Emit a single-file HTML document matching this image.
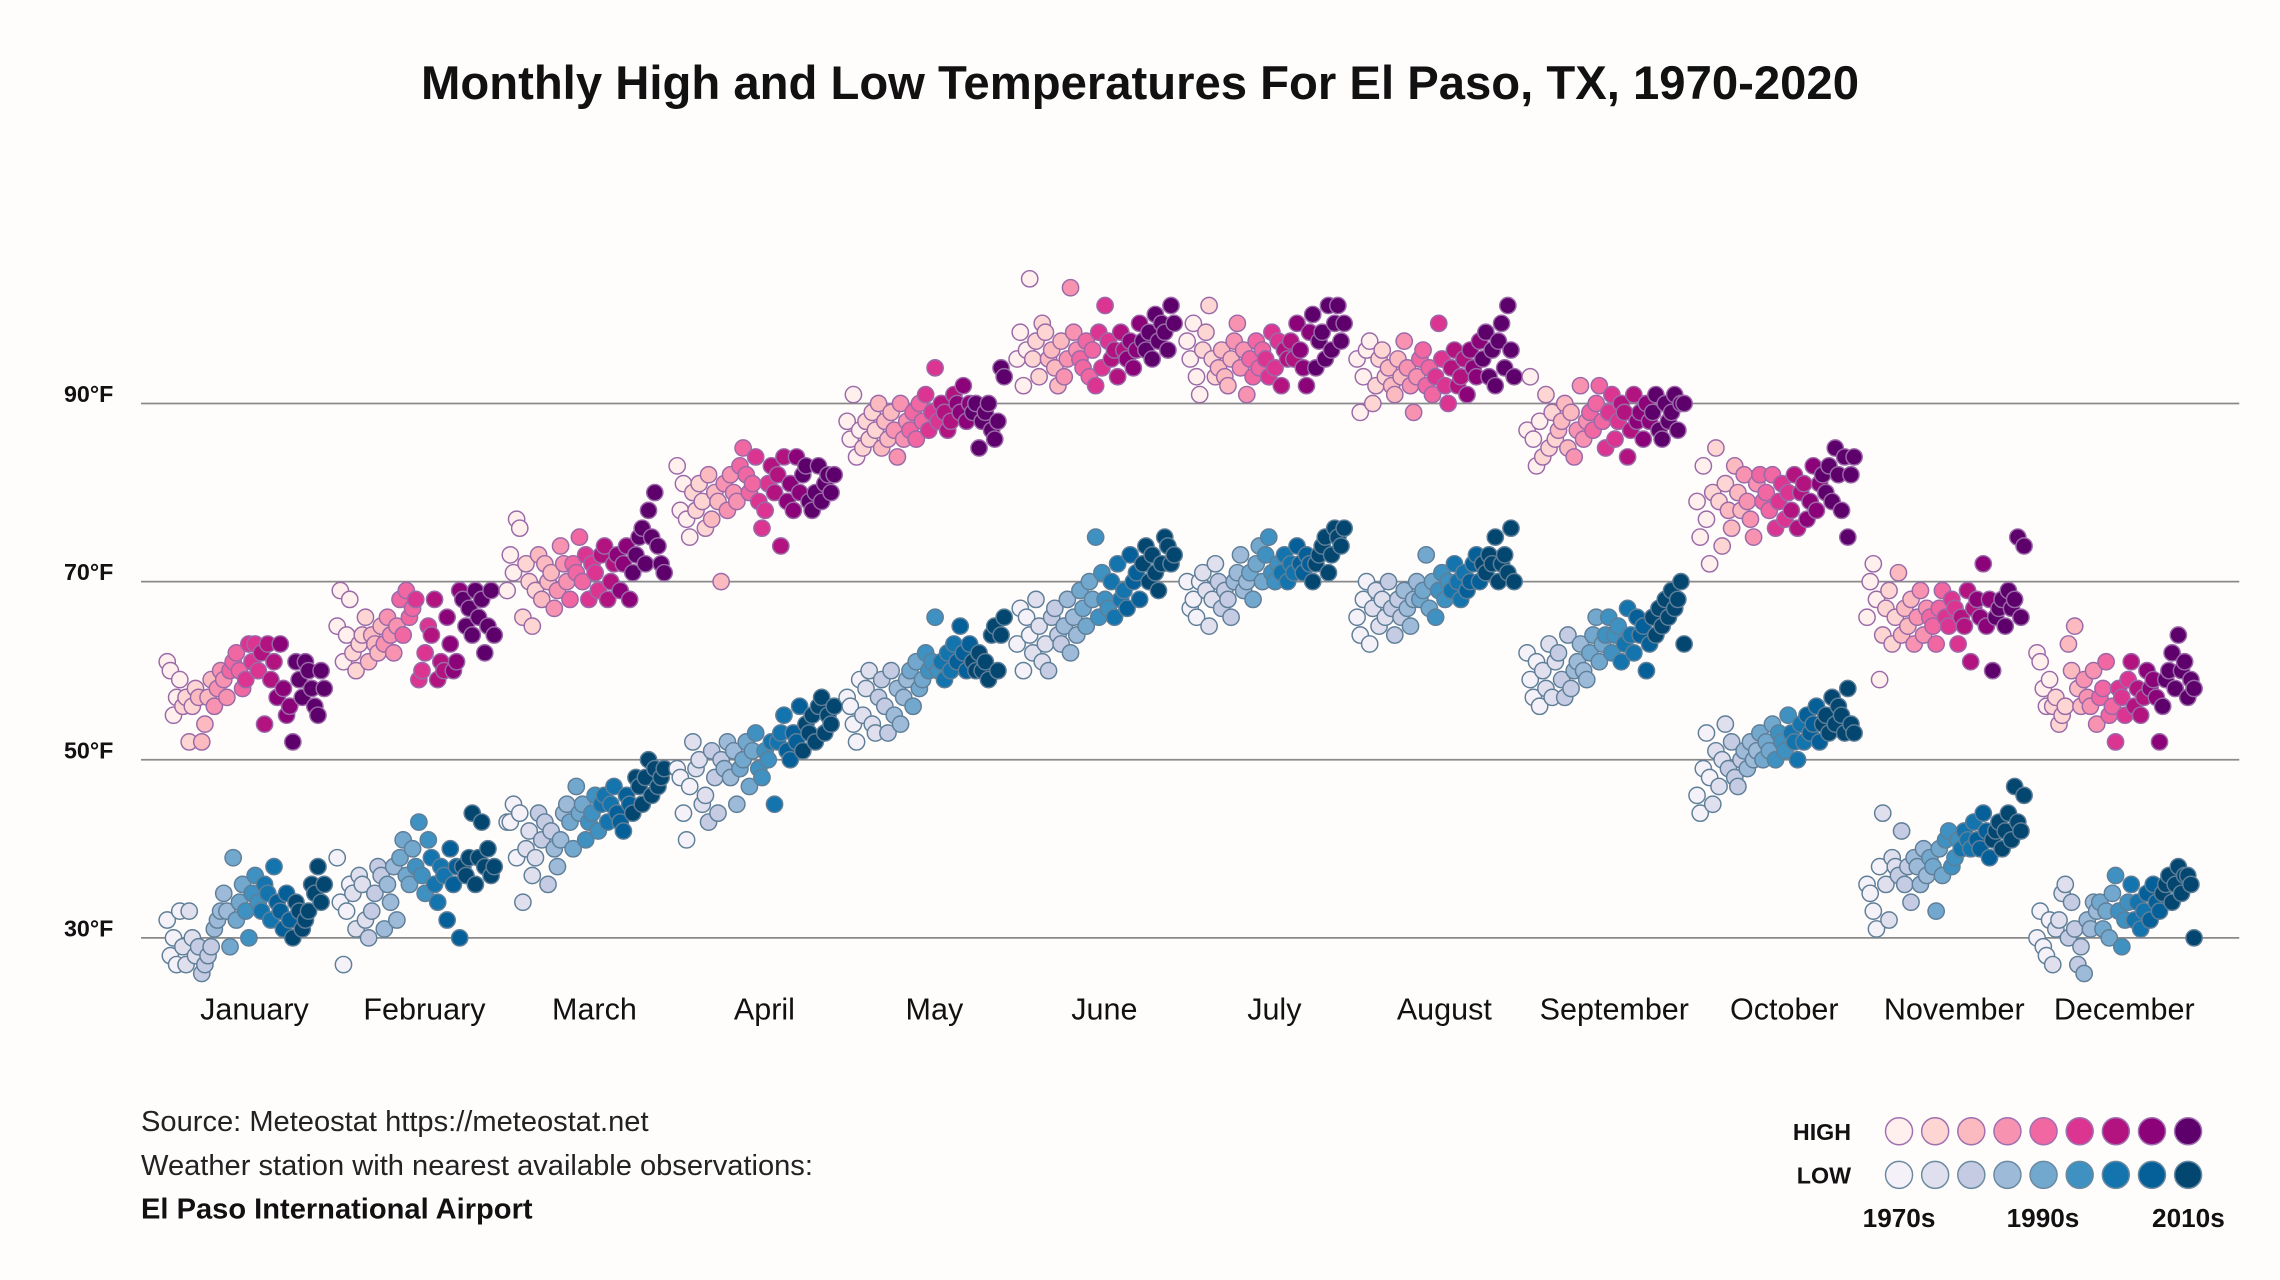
<!DOCTYPE html>
<html><head><meta charset="utf-8">
<style>
html,body{margin:0;padding:0;background:#fffcfc;}
svg{display:block;font-family:"Liberation Sans",sans-serif;}
</style></head>
<body>
<svg id="chart" width="2280" height="1280" viewBox="0 0 1568 880.3" preserveAspectRatio="none" xmlns="http://www.w3.org/2000/svg">
<rect x="0" y="0" width="1568" height="881" fill="#fffcfc"/>
<text x="784" y="68" text-anchor="middle" font-size="32.5" font-weight="bold" fill="#111">Monthly High and Low Temperatures For El Paso, TX, 1970-2020</text>
<g id="grid"></g>
<g id="xlabels"></g>
<g id="dots"></g>
<g>
<text x="97" y="778" font-size="20" fill="#222">Source: Meteostat https://meteostat.net</text>
<text x="97" y="808" font-size="20" fill="#222">Weather station with nearest available observations:</text>
<text x="97" y="838" font-size="20" font-weight="bold" fill="#111">El Paso International Airport</text>
</g>
<g id="legend">
<text x="1273" y="784" font-size="16" font-weight="bold" text-anchor="end" fill="#111">HIGH</text>
<text x="1273" y="814" font-size="16" font-weight="bold" text-anchor="end" fill="#111">LOW</text>
<text x="1306" y="844" font-size="18" font-weight="bold" text-anchor="middle" fill="#111">1970s</text>
<text x="1405" y="844" font-size="18" font-weight="bold" text-anchor="middle" fill="#111">1990s</text>
<text x="1505" y="844" font-size="18" font-weight="bold" text-anchor="middle" fill="#111">2010s</text>
</g>
</svg>
<script>
const months = ["January","February","March","April","May","June","July","August","September","October","November","December"];
const yTicks = [30,50,70,90];
const tickLabels = ["30°F","50°F","70°F","90°F"];
const highColors = ["#fff0ee","#fdd5d2","#fbbabf","#f892b1","#f067a2","#dc3591","#b3137e","#8c0278","#5e006b"];
const lowColors = ["#f4f1f8","#dfdfee","#c4cbe3","#9dbad9","#73a8ce","#3e91c0","#1474ae","#05609a","#034670"];
const janHi=[61,60,55,57,59,56,57,52,56,58,57,52,54,57,59,56,58,60,59,57,60,61,62,60,58,59,63,61,63,60,62,54,63,59,61,57,63,58,55,56,52,61,59,57,61,60,58,56,55,60,58];
const janLo=[32,28,30,27,33,29,27,33,30,28,29,26,27,28,29,31,32,33,35,33,29,39,32,34,36,33,30,35,37,34,33,36,35,32,38,34,33,31,35,32,30,34,33,31,32,33,36,35,38,34,36];
const febHi=[65,69,61,64,68,62,60,63,64,66,61,64,63,62,65,63,66,64,62,65,68,64,69,66,67,68,59,60,62,65,64,68,59,61,60,66,63,60,61,69,68,65,67,64,69,66,68,62,65,69,64];
const febLo=[39,34,27,33,36,35,31,37,36,32,30,33,35,38,37,31,36,34,38,32,39,41,37,36,40,38,43,37,35,41,39,36,34,38,37,32,40,36,38,30,38,37,39,44,36,39,43,38,40,37,38];
const marHi=[69,73,71,77,76,66,72,70,65,69,73,68,72,70,71,67,69,74,72,70,68,72,71,75,70,73,68,72,71,69,73,74,68,70,72,73,69,72,74,68,71,73,75,76,72,78,75,80,74,72,71];
const marLo=[43,43,45,39,44,34,40,42,37,39,44,41,43,36,42,40,38,41,44,45,43,40,47,44,45,41,43,44,46,42,45,46,43,45,47,44,43,42,46,45,44,48,47,45,48,50,46,49,47,48,49];
const aprHi=[83,78,81,77,75,80,78,81,79,76,82,77,80,79,70,81,78,82,80,79,83,85,82,80,81,84,79,76,78,81,83,80,82,74,84,79,81,78,84,80,82,83,79,78,80,83,79,81,82,80,82];
const aprLo=[49,48,44,41,47,52,49,50,45,46,43,51,48,44,50,49,52,48,51,45,49,50,52,47,51,53,49,48,51,50,52,45,52,53,55,51,50,53,52,56,51,54,53,55,52,56,57,53,55,54,56];
const mayHi=[88,86,91,84,87,85,88,86,89,87,90,85,88,86,89,87,84,90,86,88,87,89,86,90,88,91,87,89,94,88,90,89,87,88,91,90,89,92,88,90,89,90,85,88,89,90,87,86,88,94,93];
const mayLo=[57,56,54,52,59,55,58,60,54,53,57,59,56,53,60,55,58,54,57,59,60,56,61,58,59,62,60,61,66,60,61,59,62,60,63,61,65,62,60,63,61,60,62,60,61,59,64,65,60,64,66];
const junHi=[95,98,92,96,104,95,97,93,99,98,95,96,94,92,97,93,95,103,98,96,95,94,97,93,96,92,98,94,101,97,95,96,93,98,96,95,97,94,96,99,97,96,98,95,100,97,99,98,96,101,99];
const junLo=[63,67,60,66,64,62,68,65,61,63,60,66,67,64,63,65,68,62,66,64,69,67,65,70,68,75,66,71,68,67,70,66,72,68,69,67,73,70,71,68,72,74,70,73,71,69,72,75,74,72,73];
const julHi=[97,95,99,93,91,96,98,101,95,93,94,96,93,92,95,97,99,94,96,91,95,93,97,94,96,95,93,98,94,97,92,96,95,97,95,99,96,94,92,98,100,94,97,98,95,101,96,99,101,97,99];
const julLo=[70,67,68,66,70,71,69,65,68,72,70,67,69,68,66,70,71,73,69,70,71,68,72,74,70,73,75,71,70,72,71,73,70,72,71,74,72,71,73,72,70,72,73,74,75,71,73,76,75,74,76];
const augHi=[95,89,93,96,97,90,92,95,96,93,94,92,91,95,93,97,94,92,89,93,95,96,92,94,91,93,99,95,92,90,94,96,92,93,95,91,96,94,93,97,95,98,93,96,92,97,99,94,101,96,93];
const augLo=[66,64,68,70,63,67,69,65,68,66,70,67,64,68,66,69,67,65,68,70,68,69,73,67,70,66,69,71,68,70,69,72,70,68,71,69,70,72,73,70,72,71,73,72,75,70,72,73,71,76,70];
const sepHi=[87,93,86,83,88,84,91,85,89,86,87,88,90,85,89,84,87,92,86,88,89,87,90,92,88,85,89,91,86,88,90,89,84,87,91,88,89,86,90,88,89,91,87,86,90,88,89,91,87,90,90];
const sepLo=[62,59,57,61,56,60,58,63,57,61,62,59,57,64,58,60,61,63,60,59,62,64,66,61,63,64,66,62,64,65,61,63,67,64,62,66,64,65,60,63,66,64,67,65,68,66,69,67,68,70,63];
const octHi=[79,75,83,77,72,80,85,79,74,81,78,76,83,80,78,82,79,77,75,81,82,79,80,78,82,76,79,81,77,80,78,82,76,80,81,77,79,83,78,81,82,80,83,79,85,82,78,84,75,82,84];
const octLo=[46,44,49,53,48,45,51,47,50,54,49,52,48,47,50,51,49,52,50,51,53,50,52,51,54,50,53,52,51,55,53,52,50,54,52,55,53,54,56,52,54,55,53,57,54,56,55,53,58,54,53];
const novHi=[66,70,72,68,59,64,67,69,63,66,71,64,67,65,68,63,66,69,64,67,66,65,63,67,69,66,65,68,67,63,66,65,69,61,67,68,66,72,65,68,60,66,67,68,65,69,67,68,75,66,74];
const novLo=[36,35,33,31,38,44,36,32,39,38,37,42,36,38,34,39,38,36,40,37,39,38,33,40,37,41,42,38,39,41,40,42,41,40,43,41,40,44,42,39,41,42,43,40,42,44,41,47,43,42,46];
const decHi=[62,61,58,56,59,56,57,54,55,56,63,60,65,58,56,59,57,56,60,54,57,58,61,55,56,52,58,57,55,59,61,56,58,55,57,60,58,59,57,52,56,59,60,62,58,64,60,61,57,59,58];
const decLo=[30,33,29,28,32,27,31,32,35,36,30,34,31,27,29,26,32,31,34,33,34,31,33,30,35,37,33,29,32,34,36,32,34,31,33,35,32,36,34,33,35,36,37,34,36,38,35,37,37,36,30];
const highs=[janHi,febHi,marHi,aprHi,mayHi,junHi,julHi,augHi,sepHi,octHi,novHi,decHi];
const lows=[janLo,febLo,marLo,aprLo,mayLo,junLo,julLo,augLo,sepLo,octLo,novLo,decLo];

const NS="http://www.w3.org/2000/svg";
function yScale(t){return 645-(t-30)*6.125;}
function monthCenter(m){return 175+m*116.9;}
function xScale(m,i){return monthCenter(m)-60+i*2.16;}
function bin(i){return Math.min(8,Math.floor(i/5));}

const grid=document.getElementById('grid');
yTicks.forEach((t,k)=>{
  const l=document.createElementNS(NS,'line');
  
  
  l.setAttribute('x1',97);l.setAttribute('x2',1540);
  l.setAttribute('y1',yScale(t));l.setAttribute('y2',yScale(t));
  l.setAttribute('stroke','#8a8a8a');l.setAttribute('stroke-width','1.2');
  grid.appendChild(l);
  const tx=document.createElementNS(NS,'text');
  
  
  tx.setAttribute('x',44);tx.setAttribute('y',yScale(t)-1);
  tx.setAttribute('font-size','16');tx.setAttribute('font-weight','bold');tx.setAttribute('fill','#111');
  tx.textContent=tickLabels[k];
  grid.appendChild(tx);
});
const xl=document.getElementById('xlabels');
months.forEach((m,k)=>{
  const tx=document.createElementNS(NS,'text');
  
  
  tx.setAttribute('x',monthCenter(k));tx.setAttribute('y',701);
  tx.setAttribute('text-anchor','middle');tx.setAttribute('font-size','21');tx.setAttribute('fill','#111');
  tx.textContent=m;
  xl.appendChild(tx);
});
const dots=document.getElementById('dots');
function addDot(x,y,fill,stroke,name){
  const c=document.createElementNS(NS,'circle');
  
  
  c.setAttribute('cx',x);c.setAttribute('cy',y);c.setAttribute('r',5.6);
  c.setAttribute('fill',fill);c.setAttribute('stroke',stroke);c.setAttribute('stroke-width','1');
  dots.appendChild(c);
}
for(let m=0;m<12;m++){
  lows[m].forEach((v,i)=>addDot(xScale(m,i),yScale(v),lowColors[bin(i)],'#5f7f98','low-point'));
  highs[m].forEach((v,i)=>addDot(xScale(m,i),yScale(v),highColors[bin(i)],'#9a6aa8','high-point'));
}
const lg=document.getElementById('legend');
for(let k=0;k<9;k++){
  [[778,highColors,'#a070b0','legend-high-swatch'],[808,lowColors,'#6a8aa0','legend-low-swatch']].forEach(r=>{
    const c=document.createElementNS(NS,'circle');
    
    
    c.setAttribute('cx',1306+k*24.85);c.setAttribute('cy',r[0]);c.setAttribute('r',9.3);
    c.setAttribute('fill',r[1][k]);c.setAttribute('stroke',r[2]);c.setAttribute('stroke-width','1');
    lg.appendChild(c);
  });
}
</script>
</body></html>
